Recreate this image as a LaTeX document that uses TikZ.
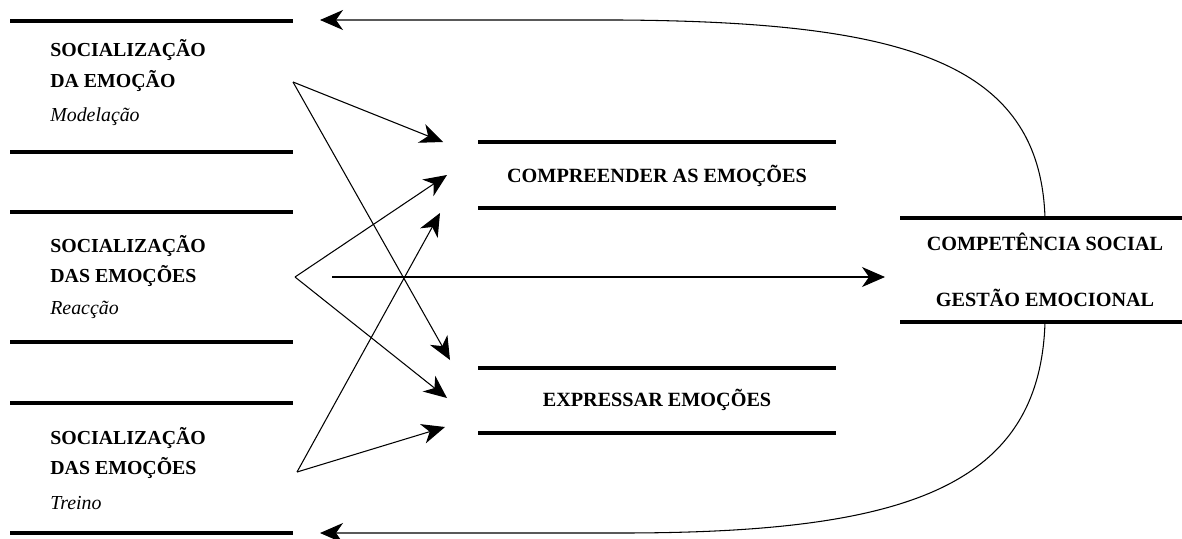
\documentclass[tikz,border=0pt]{standalone}
\usepackage{fontspec}
\setmainfont{Liberation Serif}
\usetikzlibrary{arrows.meta}

\begin{document}
\begin{tikzpicture}[
    x=0.02cm, y=-0.02cm,
    >={Stealth[length=4.6mm, width=4mm, inset=1.4mm]},
    bar/.style={line width=2.8pt},
    link/.style={->, line width=0.6pt},
    title/.style={font=\bfseries\fontsize{11.3}{13}\selectfont, anchor=west, inner sep=0pt},
    sub/.style={font=\itshape\fontsize{11.3}{13}\selectfont, anchor=west, inner sep=0pt},
    label/.style={font=\bfseries\fontsize{11.5}{13}\selectfont, inner sep=0pt},
]
\useasboundingbox (0,0) rectangle (1182,538);

% ============================================================
% LEFT: socialization boxes
% ============================================================
\draw[bar] (10,21) -- (293,21);
\draw[bar] (10,152) -- (293,152);
\node[title] (modA) at (50,50) {SOCIALIZAÇÃO};
\node[title] (modB) at (50,81) {DA EMOÇÃO};
\node[sub] (modC) at (50,117) {Modelação};

\draw[bar] (10,212) -- (293,212);
\draw[bar] (10,342) -- (293,342);
\node[title] (reaA) at (50,246) {SOCIALIZAÇÃO};
\node[title] (reaB) at (50,276) {DAS EMOÇÕES};
\node[sub] (reaC) at (50,310) {Reacção};

\draw[bar] (10,403) -- (293,403);
\draw[bar] (10,533) -- (293,533);
\node[title] (treA) at (50,438) {SOCIALIZAÇÃO};
\node[title] (treB) at (50,468) {DAS EMOÇÕES};
\node[sub] (treC) at (50,503) {Treino};

% ============================================================
% MIDDLE: understanding / expressing
% ============================================================
\draw[bar] (478,142) -- (836,142);
\draw[bar] (478,208) -- (836,208);
\node[label] (comp) at (657,176) {COMPREENDER AS EMOÇÕES};

\draw[bar] (478,368) -- (836,368);
\draw[bar] (478,433) -- (836,433);
\node[label] (expr) at (657,400) {EXPRESSAR EMOÇÕES};

% ============================================================
% RIGHT: outcome
% ============================================================
\draw[bar] (900,218) -- (1182,218);
\draw[bar] (900,322) -- (1182,322);
\node[label] (soc) at (1045,242) {COMPETÊNCIA SOCIAL};
\node[label] (gest) at (1045,298) {GESTÃO EMOCIONAL};

% --- arrow ends ---
\coordinate (srcA) at (293,82);
\coordinate (srcB) at (295,277);
\coordinate (srcC) at (297,472);
\coordinate (srcH) at (332,277);
\coordinate (compA) at (443,142);
\coordinate (compB) at (447,175);
\coordinate (compC) at (440,213);
\coordinate (exprA) at (450,360);
\coordinate (exprB) at (447,398);
\coordinate (exprC) at (445,427);
\coordinate (outIn) at (885,277);
\coordinate (outTop) at (1045,218);
\coordinate (outBot) at (1045,322);
\coordinate (backTop) at (320,20);
\coordinate (backBot) at (320,533);

% --- arrows ---
\draw[link] (srcA) -- (compA);
\draw[link] (srcA) -- (exprA);
\draw[link] (srcB) -- (compB);
\draw[link] (srcB) -- (exprB);
\draw[link] (srcC) -- (compC);
\draw[link] (srcC) -- (exprC);
\draw[link] (srcH) -- (outIn);

% Feedback loops
\draw[link] (outTop) .. controls (1040,60) and (900,22) .. (620,20) -- (backTop);
\draw[link] (outBot) .. controls (1040,490) and (900,533) .. (620,533) -- (backBot);

\end{tikzpicture}
\end{document}
